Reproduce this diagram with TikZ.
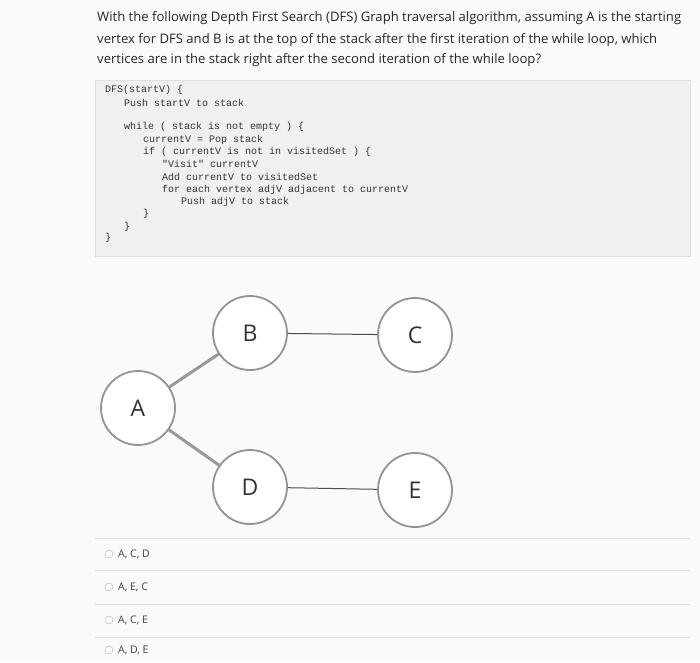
\documentclass[tikz,border=0pt]{standalone}
\usepackage{fontspec}
\setmainfont{Open Sans}
\newfontfamily\codefont{Liberation Mono}
\begin{document}
\begin{tikzpicture}[x=1pt,y=-1pt,
  q/.style={anchor=west,inner sep=0pt,font=\fontsize{13.1}{15}\selectfont,text=black!85},
  cd/.style={anchor=west,inner sep=0pt,font=\codefont\fontsize{10}{11}\selectfont,text=black!80},
  vtx/.style={circle,draw=gray!85,line width=1.8pt,fill=white,minimum size=74pt,inner sep=0pt,font=\fontsize{23}{26}\selectfont,text=black!80},
  thick edge/.style={draw=gray!80,line width=3pt},
  thin edge/.style={draw=black!70,line width=1pt},
  opt/.style={anchor=west,inner sep=0pt,font=\fontsize{10.5}{12}\selectfont,text=black!75},
  radio/.style={circle,draw=gray!60,minimum size=8pt,inner sep=0pt},
  sep/.style={draw=gray!25,line width=0.6pt}]
\fill[white!96!gray] (0,0) rectangle (700,662);
\useasboundingbox (0,0) rectangle (700,662);
\node[q] (q1) at (97,18) {With the following Depth First Search (DFS) Graph traversal algorithm, assuming A is the starting};
\node[q] (q2) at (97,40) {vertex for DFS and B is at the top of the stack after the first iteration of the while loop, which};
\node[q] (q3) at (97,60) {vertices are in the stack right after the second iteration of the while loop?};
\filldraw[fill=gray!12,draw=gray!25] (95,80) rectangle (690,256);
\node[cd] (c1) at (105,90) {DFS(startV) \{};
\node[cd] (c2) at (124,103) {Push startV to stack};
\node[cd] (c3) at (124,127) {while ( stack is not empty ) \{};
\node[cd] (c4) at (143,140) {currentV = Pop stack};
\node[cd] (c5) at (143,152) {if ( currentV is not in visitedSet ) \{};
\node[cd] (c6) at (162,164) {"Visit" currentV};
\node[cd] (c7) at (162,177) {Add currentV to visitedSet};
\node[cd] (c8) at (162,190) {for each vertex adjV adjacent to currentV};
\node[cd] (c9) at (181,202) {Push adjV to stack};
\node[cd] (c10) at (143,214) {\}};
\node[cd] (c11) at (124,227) {\}};
\node[cd] (c12) at (105,238) {\}};
\node[vtx] (B) at (250,333) {B};
\node[vtx] (C) at (415,335) {C};
\node[vtx] (A) at (138,408) {A};
\node[vtx] (D) at (250,487) {D};
\node[vtx] (E) at (415,490) {E};
\draw[thick edge] (A) -- (B);
\draw[thick edge] (A) -- (D);
\draw[thin edge] (B) -- (C);
\draw[thin edge] (D) -- (E);
\draw[sep] (95,538) -- (690,538);
\draw[sep] (95,570) -- (690,570);
\draw[sep] (95,604) -- (690,604);
\draw[sep] (95,637) -- (690,637);
\node[radio] (r1) at (109,554) {};
\node[opt] (o1) at (118,554) {A, C, D};
\node[radio] (r2) at (109,587) {};
\node[opt] (o2) at (118,587) {A, E, C};
\node[radio] (r3) at (109,620) {};
\node[opt] (o3) at (118,620) {A, C, E};
\node[radio] (r4) at (109,650) {};
\node[opt] (o4) at (118,650) {A, D, E};
\end{tikzpicture}
\end{document}
